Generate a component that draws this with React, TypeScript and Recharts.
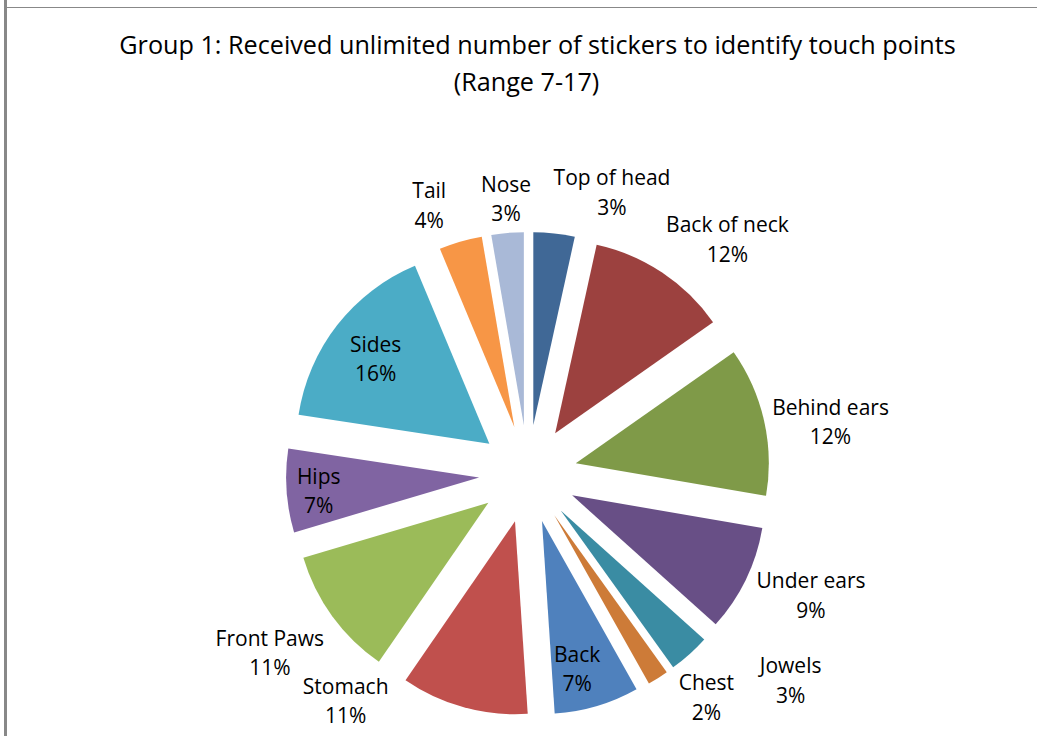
import { PieChart, Pie, Cell, Sector, Tooltip } from "recharts";

const categories = [
  "Top of head", "Back of neck", "Behind ears", "Under ears", "Jowels", "Chest",
  "Back", "Stomach", "Front Paws", "Hips", "Sides", "Tail", "Nose",
];
// share of stickers per touch point (%)
const shares = [3.45, 11.8, 12.45, 8.95, 3.45, 1.75, 7.1, 10.65, 10.8, 7.0, 16.3, 3.6, 2.7];
const colors = [
  "#406896", "#9c413f", "#7f9a48", "#684f86", "#3a8ca3", "#cd7b38",
  "#4f81bd", "#c0504d", "#9bbb59", "#8064a2", "#4bacc6", "#f79646", "#a9b9d7",
];

// label placement: distance from pie centre and angular nudge (deg, clockwise)
const labelDist = [294, 308, 307, 308, 334, 286, 201, 291, 314, 210, 191, 286, 276];
const labelShift = [10.4, 6.7, 2.9, -2.6, -10, -6.1, 2.4, 23.4, 1.3, -0.75, -0.9, -4, 0.3];

const data = categories.map((name, i) => ({ name, value: shares[i] }));

const RAD = Math.PI / 180;
const EXPLODE = 49;
const FONT = "'Open Sans', sans-serif";

function ExplodedSector(props: any) {
  const { cx, cy, innerRadius, outerRadius, startAngle, endAngle, fill } = props;
  const mid = (startAngle + endAngle) / 2;
  const dx = EXPLODE * Math.cos(-mid * RAD);
  const dy = EXPLODE * Math.sin(-mid * RAD);
  return (
    <Sector
      cx={cx + dx}
      cy={cy + dy}
      innerRadius={innerRadius}
      outerRadius={outerRadius}
      startAngle={startAngle}
      endAngle={endAngle}
      fill={fill}
      stroke="none"
    />
  );
}

function renderLabel(props: any) {
  const { cx, cy, startAngle, endAngle, index, name, percent } = props;
  const mid = (startAngle + endAngle) / 2 - labelShift[index];
  const d = labelDist[index];
  const x = cx + d * Math.cos(-mid * RAD);
  const y = cy + d * Math.sin(-mid * RAD);
  return (
    <text textAnchor="middle" fill="#000" fontFamily={FONT} fontSize={21}>
      <tspan x={x} y={y - 7.25}>{name}</tspan>
      <tspan x={x} y={y + 22.25}>{Math.round(percent * 100)}%</tspan>
    </text>
  );
}

export default function App() {
  return (
    <div style={{ position: "absolute", left: 0, top: 0, width: 1037, height: 736, background: "#fff" }}>
      <div style={{ position: "absolute", left: 4, top: 0, width: 3, height: 736, background: "#888" }} />
      <div style={{ position: "absolute", left: 4, top: 7, width: 1033, height: 1, background: "#888" }} />
      <svg style={{ position: "absolute", left: 0, top: 0 }} width={1037} height={110}>
        <text x={537.5} y={54} textAnchor="middle" fontFamily={FONT} fontSize={25.2} fill="#000">
          Group 1: Received unlimited number of stickers to identify touch points
        </text>
        <text x={526.5} y={90.5} textAnchor="middle" fontFamily={FONT} fontSize={25.2} fill="#000">
          (Range 7-17)
        </text>
      </svg>
      <div style={{ position: "absolute", left: 0, top: 0 }}>
        <PieChart width={1037} height={736} margin={{ top: 0, right: 0, bottom: 0, left: 0 }}>
          <Pie
            data={data}
            dataKey="value"
            nameKey="name"
            cx={528}
            cy={474}
            outerRadius={193}
            startAngle={90}
            endAngle={-270}
            stroke="none"
            label={renderLabel}
            labelLine={false}
            shape={ExplodedSector}
            activeShape={ExplodedSector}
            inactiveShape={ExplodedSector}
            isAnimationActive={false}
          >
            {data.map((d, i) => (
              <Cell key={d.name} fill={colors[i]} />
            ))}
          </Pie>
          <Tooltip defaultIndex={0} content={() => null} cursor={false} />
        </PieChart>
      </div>
    </div>
  );
}
